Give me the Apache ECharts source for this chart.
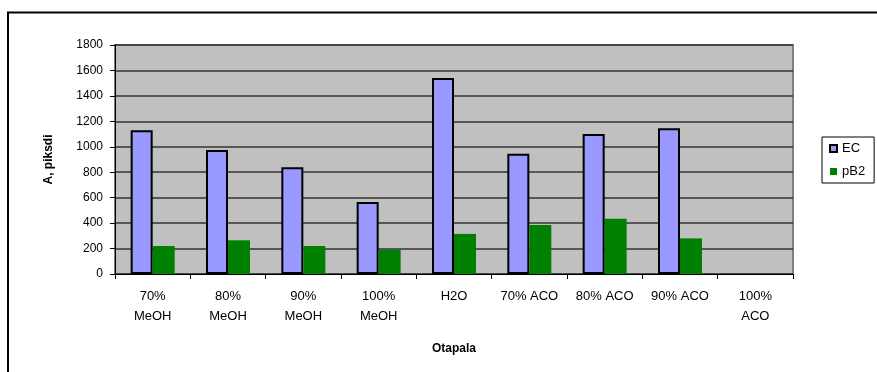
<!DOCTYPE html>
<html>
<head>
<meta charset="utf-8">
<script src="https://cdn.jsdelivr.net/npm/echarts@6/dist/echarts.min.js"></script>
<style>
  html, body { margin: 0; padding: 0; background: #fff; }
  #chart { width: 877px; height: 372px; }
</style>
</head>
<body>
<div id="chart"></div>
<script>
// Solvent categories along the x axis
const categories = ['70%\nMeOH', '80%\nMeOH', '90%\nMeOH', '100%\nMeOH', 'H2O', '70% ACO', '80% ACO', '90% ACO', '100%\nACO'];
// Peak areas per solvent
const ecValues  = [1130, 975, 840, 565, 1540, 945, 1100, 1145, null];
const pb2Values = [220, 265, 220, 190, 315, 385, 435, 280, null];
// Value axis ticks
const yMin = 0, yMax = 1800, yStep = 200;

const FONT = 'Liberation Sans, Arial, sans-serif';
const chart = echarts.init(document.getElementById('chart'));

chart.setOption({
  animation: false,
  backgroundColor: '#fff',
  textStyle: { fontFamily: FONT, color: '#000' },
  graphic: [{
    type: 'rect',
    shape: { x: 8, y: 12.5, width: 1000, height: 500 },
    style: { fill: 'none', stroke: '#000', lineWidth: 2 },
    silent: true
  }],
  grid: {
    left: 115, right: 84, top: 45, bottom: 98,
    show: true,
    backgroundColor: '#C0C0C0',
    borderColor: '#808080',
    borderWidth: 2
  },
  legend: {
    orient: 'vertical',
    left: 822, top: 137,
    borderColor: '#000', borderWidth: 1,
    padding: [5, 9, 5, 7],
    itemGap: 10,
    itemWidth: 7, itemHeight: 7,
    icon: 'rect',
    textStyle: { fontFamily: FONT, fontSize: 13, color: '#000' },
    data: ['EC', 'pB2']
  },
  xAxis: {
    type: 'category',
    data: categories,
    name: 'Otapala',
    nameLocation: 'middle',
    nameGap: 69,
    nameTextStyle: { fontFamily: FONT, fontSize: 12, fontWeight: 'bold', color: '#000' },
    axisLine: { lineStyle: { color: '#000', width: 1 } },
    axisTick: { show: true, length: 5, lineStyle: { color: '#000' } },
    axisLabel: { fontFamily: FONT, fontSize: 13, color: '#000', lineHeight: 20, margin: 12, interval: 0 },
    splitLine: { show: false }
  },
  yAxis: {
    type: 'value',
    min: yMin, max: yMax, interval: yStep,
    name: 'A, piksdi',
    nameLocation: 'middle',
    nameGap: 60,
    nameRotate: 90,
    nameTextStyle: { fontFamily: FONT, fontSize: 12, fontWeight: 'bold', color: '#000' },
    axisLine: { show: true, lineStyle: { color: '#000', width: 1 } },
    axisTick: { show: true, length: 5, lineStyle: { color: '#000' } },
    axisLabel: { fontFamily: FONT, fontSize: 12, color: '#000', margin: 12, formatter: v => String(v) },
    splitLine: { show: true, lineStyle: { color: '#333', width: 1.5 } }
  },
  series: [
    {
      name: 'EC',
      type: 'bar',
      data: ecValues,
      barWidth: 22,
      barGap: '0%',
      itemStyle: { color: '#9999FF', borderColor: '#000', borderWidth: 2 }
    },
    {
      name: 'pB2',
      type: 'bar',
      data: pb2Values,
      barWidth: 22,
      barGap: '0%',
      itemStyle: { color: '#008000' }
    }
  ]
});
</script>
</body>
</html>
